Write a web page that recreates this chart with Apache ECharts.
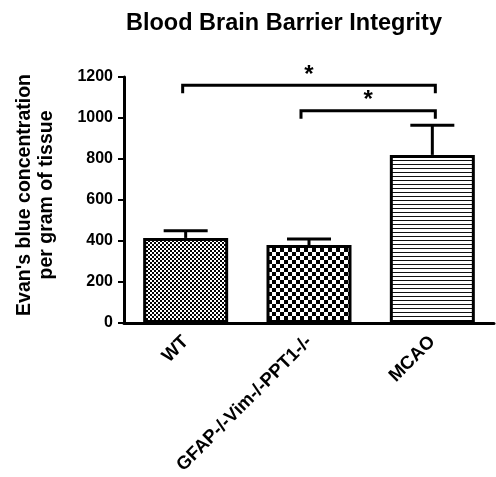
<!DOCTYPE html>
<html><head><meta charset="utf-8">
<script src="https://cdn.jsdelivr.net/npm/echarts@6/dist/echarts.min.js"></script>
<style>html,body{margin:0;padding:0;background:#fff}#c{width:496px;height:477px}</style>
</head><body><div id="c"></div>
<script>
// ---- data ----
const categories = ['WT', 'GFAP-/-Vim-/-PPT1-/-', 'MCAO'];
const means = [415, 380, 820];
const errorTops = [450, 410, 965];
const yMin = 0, yMax = 1200, yStep = 200;
const bracketFrom = [0, 1];
const bracketTo = [2, 2];
const bracketLabel = ['*', '*'];
const bracketLevel = [1160, 1035];
const titleText = 'Blood Brain Barrier Integrity';
const yName = "Evan's blue concentration\nper gram of tissue";

// ---- style helpers ----
const FONT = '"Liberation Sans", Arial, sans-serif';
const bracketStartShift = [-3, -8];
const bracketEndShift = [3, 3];

function checker(size) {
  const c = document.createElement('canvas');
  c.width = c.height = size * 2;
  const g = c.getContext('2d');
  g.fillStyle = '#fff'; g.fillRect(0, 0, size * 2, size * 2);
  g.fillStyle = '#000';
  g.fillRect(0, 0, size, size); g.fillRect(size, size, size, size);
  return c;
}
function hlines(period, thick) {
  const c = document.createElement('canvas');
  c.width = 8; c.height = period;
  const g = c.getContext('2d');
  g.fillStyle = '#fff'; g.fillRect(0, 0, 8, period);
  g.fillStyle = '#111'; g.fillRect(0, 0, 8, thick);
  return c;
}
const fills = [checker(2), checker(4), hlines(4, 1)];

const chart = echarts.init(document.getElementById('c'), null, {renderer: 'canvas'});
chart.setOption({
  animation: false,
  backgroundColor: '#fff',
  graphic: [
    {
      type: 'text', left: 126, top: 12,
      style: {text: titleText, fontFamily: FONT, fontWeight: 'bold', fontSize: 23.5, fill: '#000'}
    },
    {
      type: 'text', x: 36, y: 195, rotation: Math.PI / 2,
      style: {text: yName, fontFamily: FONT, fontWeight: 'bold', fontSize: 19.5, lineHeight: 22,
              fill: '#000', align: 'center', verticalAlign: 'middle'}
    }
  ],
  grid: {left: 124, right: 2, top: 77, bottom: 154, containLabel: false},
  xAxis: {
    type: 'category', data: categories,
    axisLine: {lineStyle: {color: '#000', width: 3}},
    axisTick: {alignWithLabel: true, length: 6, lineStyle: {color: '#000', width: 2}},
    axisLabel: {rotate: 45, margin: 16, interval: 0, color: '#000', fontFamily: FONT, fontWeight: 'bold', fontSize: 18.5},
    splitLine: {show: false}
  },
  yAxis: {
    type: 'value', min: yMin, max: yMax, interval: yStep,
    axisLine: {show: true, lineStyle: {color: '#000', width: 3}},
    axisTick: {show: true, length: 6, lineStyle: {color: '#000', width: 2}},
    axisLabel: {margin: 11, color: '#000', fontFamily: FONT, fontWeight: 'bold', fontSize: 16,
                formatter: v => String(v)},
    splitLine: {show: false}
  },
  series: [
    {
      type: 'bar', barWidth: 85,
      data: means.map((v, i) => ({value: v, itemStyle: {color: {image: fills[i], repeat: 'repeat'}}})),
      itemStyle: {borderColor: '#000', borderWidth: 3},
      z: 2
    },
    {
      type: 'custom', z: 3,
      data: means.map((v, i) => [i, v, errorTops[i]]),
      encode: {x: 0, y: [1, 2]},
      renderItem: function (params, api) {
        const x = api.value(0);
        const p0 = api.coord([x, api.value(1)]);
        const p1 = api.coord([x, api.value(2)]);
        const st = {stroke: '#000', lineWidth: 3};
        return {type: 'group', children: [
          {type: 'line', shape: {x1: p0[0], y1: p0[1], x2: p1[0], y2: p1[1]}, style: st},
          {type: 'line', shape: {x1: p1[0] - 22, y1: p1[1], x2: p1[0] + 22, y2: p1[1]}, style: st}
        ]};
      }
    },
    {
      type: 'custom', z: 4,
      data: bracketFrom.map((f, i) => [f, bracketTo[i], bracketLevel[i], i]),
      encode: {x: [0, 1], y: 2},
      renderItem: function (params, api) {
        const i = params.dataIndex;
        const a = api.coord([api.value(0), api.value(2)]);
        const b = api.coord([api.value(1), api.value(2)]);
        const x1 = a[0] + bracketStartShift[i], x2 = b[0] + bracketEndShift[i], y = a[1];
        return {type: 'group', children: [
          {type: 'polyline', shape: {points: [[x1, y + 8], [x1, y], [x2, y], [x2, y + 8]]},
           style: {stroke: '#000', lineWidth: 3, fill: null}},
          {type: 'text', x: (x1 + x2) / 2, y: y - 10,
           style: {text: bracketLabel[i], fontFamily: FONT, fontWeight: 'bold', fontSize: 24, fill: '#000',
                   align: 'center', verticalAlign: 'middle'}}
        ]};
      }
    }
  ]
});
</script>
</body></html>
